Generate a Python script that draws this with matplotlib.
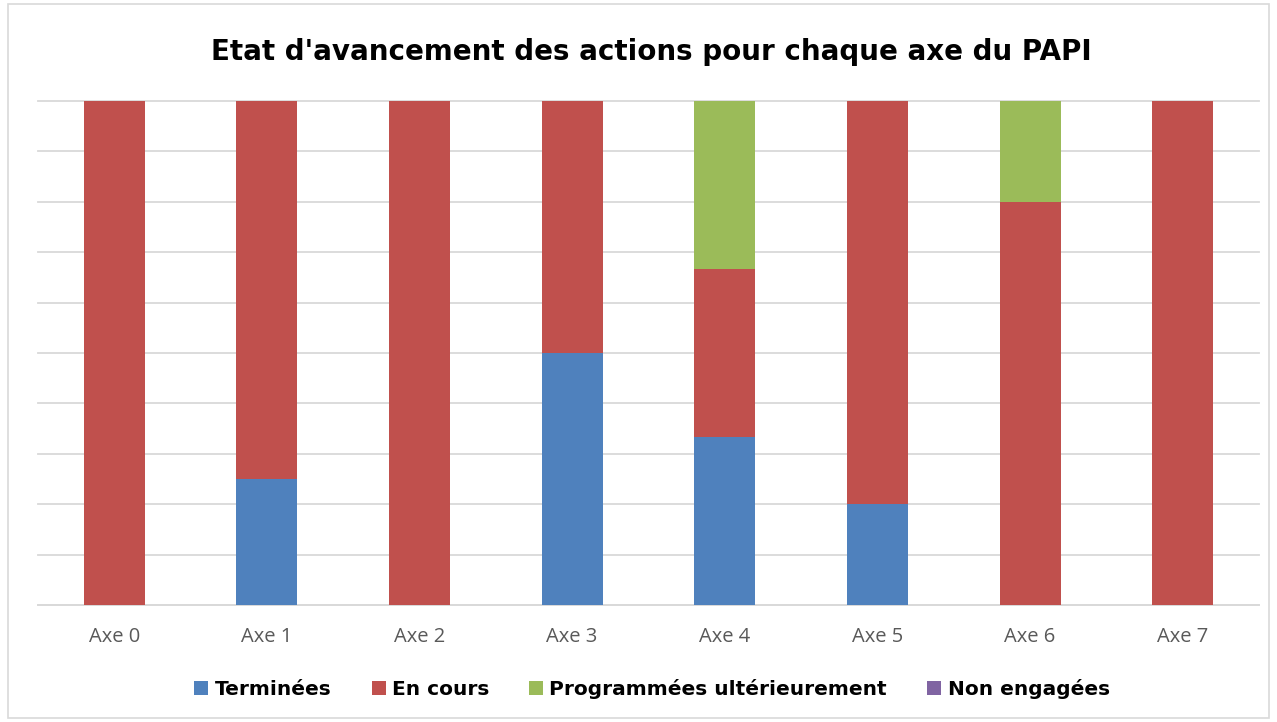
"""Etat d'avancement des actions du PAPI - barres empilees 100%."""
import numpy as np
from matplotlib import pyplot as plt
from matplotlib.patches import Rectangle

# donnees (parts en %)
axes_papi = ["Axe 0", "Axe 1", "Axe 2", "Axe 3", "Axe 4", "Axe 5", "Axe 6", "Axe 7"]
terminees = [0, 25, 0, 50, 33.3, 20, 0, 0]
en_cours = [100, 75, 100, 50, 33.3, 80, 80, 100]
programmees = [0, 0, 0, 0, 33.4, 0, 20, 0]
non_engagees = [0, 0, 0, 0, 0, 0, 0, 0]

series = [
    ("Terminées", terminees, "#4F81BD"),
    ("En cours", en_cours, "#C0504D"),
    ("Programmées ultérieurement", programmees, "#9BBB59"),
    ("Non engagées", non_engagees, "#8064A2"),
]

fig = plt.figure(figsize=(12.77, 7.22), dpi=100)
ax = fig.add_axes([38 / 1277, 1 - 605 / 722, (1259 - 38) / 1277, (605 - 101) / 722])

x = np.arange(len(axes_papi))
bottom = np.zeros(len(axes_papi))
for name, values, color in series:
    values = np.array(values, dtype=float)
    ax.bar(x, values, width=0.4, bottom=bottom, color=color, label=name, zorder=3)
    bottom += values

ax.set_xlim(-0.5, len(axes_papi) - 0.5)
ax.set_ylim(0, 100)
ax.set_yticks(np.arange(0, 101, 10))
ax.set_yticklabels([])
ax.tick_params(axis="y", length=0)
ax.tick_params(axis="x", length=0, pad=16, labelsize=14.5, labelcolor="#595959")
ax.set_xticks(x)
ax.set_xticklabels(axes_papi, family="Open Sans")
ax.grid(axis="y", color="#d9d9d9", linewidth=1.3, zorder=0)
for gl in ax.get_ygridlines():
    gl.set_clip_on(False)
for side in ["top", "right", "left"]:
    ax.spines[side].set_visible(False)
ax.spines["bottom"].set_color("#d9d9d9")
ax.spines["bottom"].set_linewidth(1.3)

fig.text(0.51, 1 - 52 / 722, "Etat d'avancement des actions pour chaque axe du PAPI",
         ha="center", va="center", fontsize=20, fontweight="bold", color="black")

handles, labels = ax.get_legend_handles_labels()
leg = fig.legend(handles, labels, loc="center", bbox_to_anchor=(652 / 1277, 1 - 689 / 722),
                 ncol=4, frameon=False, prop={"size": 14.5, "weight": "bold"},
                 handlelength=0.7, handleheight=0.7, handletextpad=0.3, columnspacing=2.0)

# cadre autour du graphique
fig.patches.append(Rectangle((8 / 1277, 4 / 722), 1 - 16 / 1277, 1 - 8 / 722,
                             transform=fig.transFigure, fill=False,
                             edgecolor="#d9d9d9", linewidth=1.2))

fig.savefig("out.png", dpi=100)
